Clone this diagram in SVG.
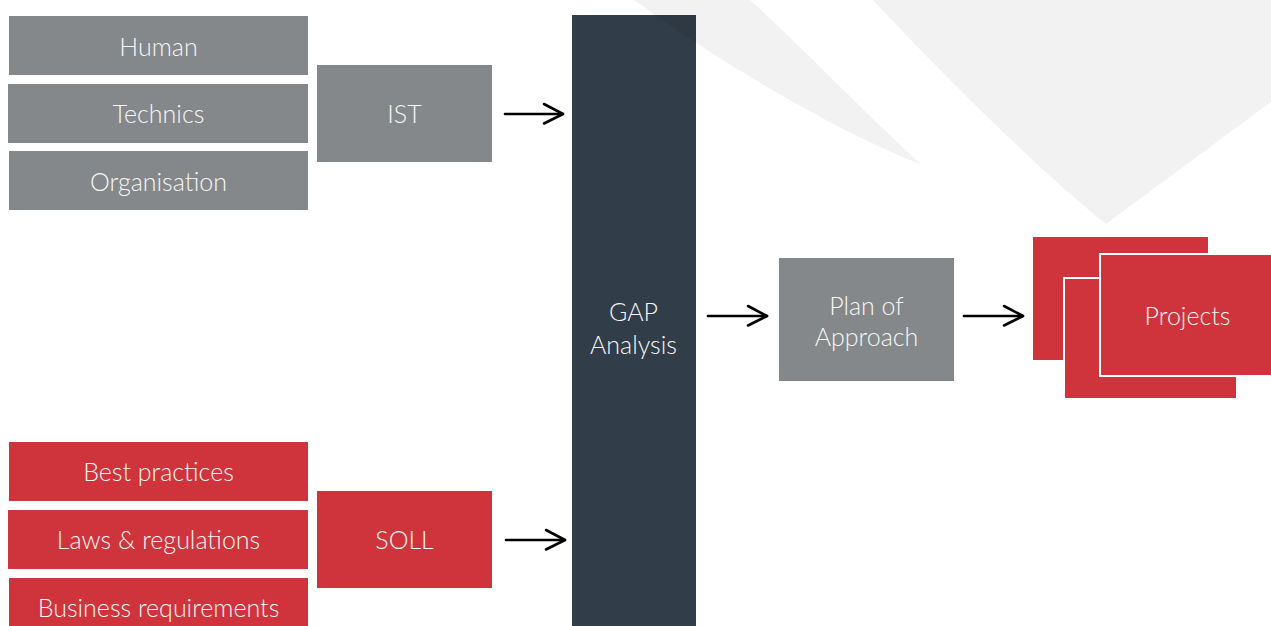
<svg xmlns="http://www.w3.org/2000/svg" width="1271" height="626" viewBox="0 0 1271 626">
  <defs>
    <style>
      .gray { fill: #85888a; }
      .red { fill: #cf343c; }
      .dark { fill: #313d48; }
      .lbl { font-family: Lato, "Open Sans", "Liberation Sans", sans-serif; font-weight: 300; font-size: 25px; fill: #f6f6f6; text-anchor: middle; }
      .edge { stroke: #000; stroke-width: 2.6; fill: none; stroke-linecap: round; }
      .bg { fill: #000; fill-opacity: 0.05; }
      .stk { stroke: #fff; stroke-width: 2; }
    </style>
    <marker id="chev" markerUnits="userSpaceOnUse" markerWidth="30" markerHeight="30" refX="0" refY="0" viewBox="-25 -15 30 30" orient="auto" overflow="visible">
      <path d="M-19,-10 L0,0 L-19,9.5" fill="none" stroke="#000" stroke-width="2.6" stroke-linecap="round" stroke-linejoin="round"/>
    </marker>
  </defs>
  <rect width="1271" height="626" fill="#fff"/>

  <g id="human"><rect class="gray" x="9" y="16" width="299" height="59"/><text class="lbl" x="158.5" y="55.5">Human</text></g>
  <g id="technics"><rect class="gray" x="8" y="84" width="300" height="59"/><text class="lbl" x="158.5" y="123">Technics</text></g>
  <g id="organisation"><rect class="gray" x="9" y="151" width="299" height="59"/><text class="lbl" x="158.5" y="190.5">Organisation</text></g>
  <g id="ist"><rect class="gray" x="317" y="65" width="175" height="97"/><text class="lbl" x="404.5" y="122.5">IST</text></g>

  <g id="best-practices"><rect class="red" x="9" y="442" width="299" height="59"/><text class="lbl" x="158.5" y="481">Best practices</text></g>
  <g id="laws"><rect class="red" x="8" y="510" width="300" height="59"/><text class="lbl" x="158.5" y="549">Laws &amp; regulations</text></g>
  <g id="business"><rect class="red" x="9" y="578" width="299" height="59"/><text class="lbl" x="158.5" y="617">Business requirements</text></g>
  <g id="soll"><rect class="red" x="317" y="491" width="175" height="97"/><text class="lbl" x="404.5" y="549">SOLL</text></g>

  <g id="gap"><rect class="dark" x="572" y="15" width="124" height="620"/><text class="lbl" x="633.5" y="321">GAP</text><text class="lbl" x="633.5" y="354">Analysis</text></g>

  <g id="plan"><rect class="gray" x="779" y="258" width="175" height="123"/><text class="lbl" x="866.5" y="314.5">Plan of</text><text class="lbl" x="866.5" y="346">Approach</text></g>

  <g id="projects">
    <rect class="red" x="1033" y="237" width="175" height="123"/>
    <rect class="red stk" x="1064" y="278" width="173" height="121"/>
    <rect class="red stk" x="1100" y="254" width="175" height="122"/>
    <text class="lbl" x="1187.5" y="324.5">Projects</text>
  </g>

  <g id="background">
    <path class="bg" d="M634,0 L750,0 C800,45 870,118 922,165 C820,125 700,48 634,0 Z"/>
    <path class="bg" d="M873,0 L1271,0 L1271,102 L1106,224 C1040,172 930,62 873,0 Z"/>
  </g>

  <g id="connectors">
    <line class="edge" x1="505" y1="114" x2="563" y2="114" marker-end="url(#chev)"/>
    <line class="edge" x1="506" y1="540" x2="565" y2="540" marker-end="url(#chev)"/>
    <line class="edge" x1="708" y1="316" x2="767" y2="316" marker-end="url(#chev)"/>
    <line class="edge" x1="964" y1="316" x2="1023" y2="316" marker-end="url(#chev)"/>
  </g>
</svg>
